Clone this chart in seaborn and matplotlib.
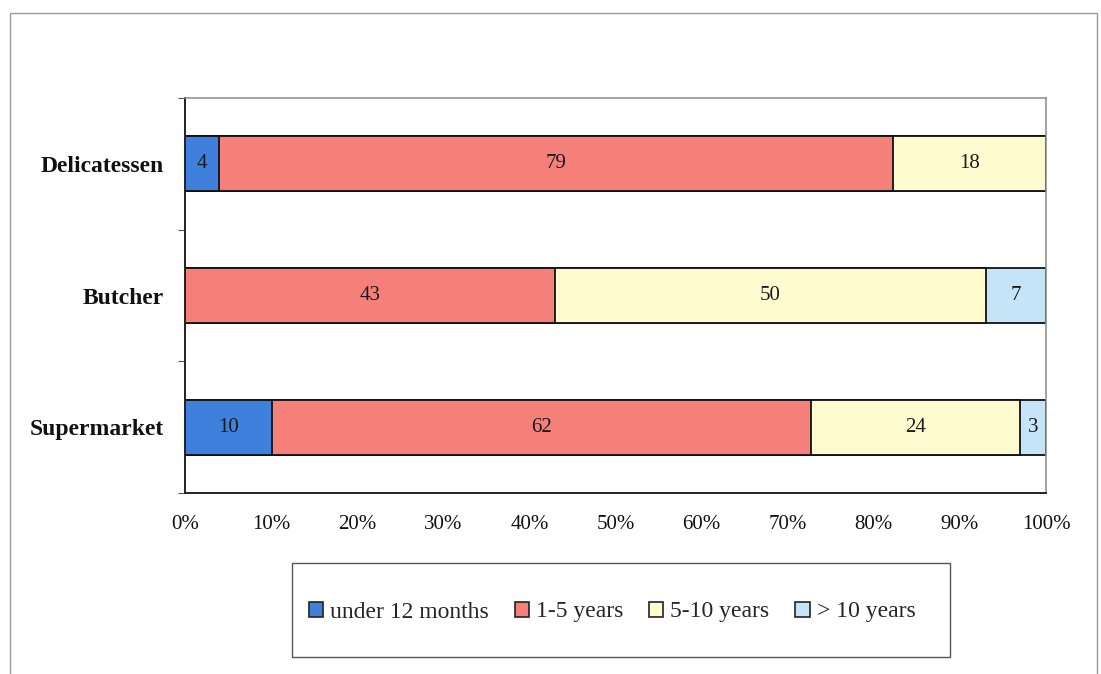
import matplotlib
matplotlib.use("Agg")
import matplotlib.pyplot as plt
from matplotlib.patches import Rectangle, Patch
from matplotlib.ticker import FixedLocator, PercentFormatter
import numpy as np
import pandas as pd
import seaborn as sns

# Shop types and how long customers have used them
stores = ["Delicatessen", "Butcher", "Supermarket"]
series = ["under 12 months", "1-5 years", "5-10 years", "> 10 years"]
under_12_months = [4, 0, 10]
one_to_five = [79, 43, 62]
five_to_ten = [18, 50, 24]
over_ten = [0, 7, 3]
colors = ["#3f80dc", "#f5807a", "#fffbd0", "#c6e4f8"]

sns.set_theme(style="white")
plt.rcParams["font.family"] = ["Liberation Serif", "DejaVu Serif"]

values = np.array([under_12_months, one_to_five, five_to_ten, over_ten], dtype=float)
shares = values / values.sum(axis=0)            # 100% stacked
cum = np.cumsum(shares, axis=0)
starts = cum - shares

fig = plt.figure(figsize=(11.01, 6.74), dpi=100)
ax = fig.add_axes([185 / 1101, 1 - 493 / 674, (1046 - 185) / 1101, (493 - 98) / 674])

# Stacked bars: draw cumulative totals from the outermost segment inwards
for i in reversed(range(len(series))):
    df = pd.DataFrame({"store": stores, "cum": cum[i]})
    sns.barplot(data=df, x="cum", y="store", orient="h", color=colors[i],
                saturation=1, edgecolor="#111111", linewidth=1.3, width=0.42, ax=ax)

# Segment value labels
for i in range(len(series)):
    for j, store in enumerate(stores):
        if values[i, j] > 0:
            ax.text(starts[i, j] + shares[i, j] / 2, j, f"{int(values[i, j])}",
                    ha="center", va="center", fontsize=15, color="#1a1a1a")

ax.set_xlim(0, 1)
ax.set_ylim(2.5, -0.5)
ax.set_xlabel("")
ax.set_ylabel("")

ax.xaxis.set_major_locator(FixedLocator(np.linspace(0, 1, 11)))
ax.xaxis.set_major_formatter(PercentFormatter(1.0, decimals=0))
ax.tick_params(axis="x", which="major", direction="out", length=4, width=0.8,
               color="#999999", labelsize=15, pad=12, labelcolor="#111111")

ax.yaxis.set_minor_locator(FixedLocator([-0.5, 0.5, 1.5, 2.5]))
ax.tick_params(axis="y", which="major", length=0, pad=15, labelsize=17)
ax.tick_params(axis="y", which="minor", left=True, direction="out", length=5,
               width=0.8, color="#555555")
for lbl in ax.get_yticklabels():
    lbl.set_fontweight("bold")
    lbl.set_color("#111111")

for side in ["left", "bottom"]:
    ax.spines[side].set_color("#222222")
    ax.spines[side].set_linewidth(1.4)
for side in ["top", "right"]:
    ax.spines[side].set_color("#8a8a8a")
    ax.spines[side].set_linewidth(1.1)

# Legend box and entries
fig.patches.append(Rectangle((292 / 1101, 1 - 657 / 674), 658 / 1101, 94 / 674,
                             transform=fig.transFigure, fill=False,
                             edgecolor="#555555", linewidth=1.0))
handles = [Patch(facecolor=c, edgecolor="#222222", linewidth=1.2) for c in colors]
fig.legend(handles, series, loc="center", bbox_to_anchor=(612 / 1101, 1 - 612 / 674),
           ncol=4, frameon=False, fontsize=17, handlelength=0.6, handleheight=0.6,
           handletextpad=0.3, columnspacing=1.1)

# Outer chart frame
fig.patches.append(Rectangle((10 / 1101, -0.02), 1087 / 1101, 1.0 - 13 / 674 + 0.02,
                             transform=fig.transFigure, fill=False,
                             edgecolor="#9a9a9a", linewidth=1.0))

fig.savefig("out.png", dpi=100, facecolor="white")
